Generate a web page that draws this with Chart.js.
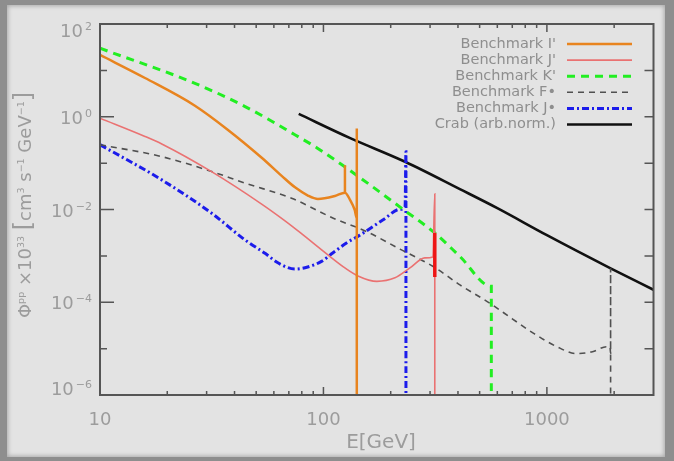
<!DOCTYPE html>
<html lang="en">
<head>
  <meta charset="UTF-8">
  <title>Benchmark spectra</title>
  <script src="https://cdn.jsdelivr.net/npm/chart.js"></script>
  <style>
    html, body { margin: 0; padding: 0; background: #e3e3e3; }
    #wrap { position: relative; width: 674px; height: 461px; overflow: hidden; }
    #frame { position: absolute; left: 0; top: 0; width: 674px; height: 461px; box-sizing: border-box;
      background: #e3e3e3; border-style: solid; border-color: #8e8e8e; border-width: 5px 9px 4px 7px;
      box-shadow: inset 0 0 4px 1px #a8a8a8; }
    #chart { position: absolute; left: 0; top: 0; }
  </style>
</head>
<body>
<div id="wrap">
  <div id="frame"></div>
  <canvas id="chart" width="674" height="461"></canvas>
</div>
<script>
// energies in GeV, fluxes in 1e-33 cm^3 s^-1 GeV^-1
const energyI = [10, 15.9, 26.6, 37.4, 53.1, 65.2, 74.6, 85.2, 94.5, 112.6, 124.8, 124.8, 124.8, 131.5, 138, 141, 141, 141];
const fluxI = [21.5, 6.85, 1.73, 0.52, 0.129, 0.0525, 0.030, 0.020, 0.0169, 0.0196, 0.0231, 0.09, 0.0231, 0.0162, 0.0098, 0.0065, 0.56, 1e-7];

const energyJ = [10, 15.9, 18.9, 31.7, 53.1, 67.3, 78.5, 104.7, 124.8, 142.7, 173.5, 208.9, 243.8, 284.4, 309, 315, 315, 315, 315];
const fluxJ = [0.93, 0.376, 0.259, 0.0646, 0.0129, 0.00568, 0.0032, 1.05e-3, 5.5e-4, 3.7e-4, 2.82e-4, 3.36e-4, 5.5e-4, 9.06e-4, 9.5e-4, 0.0217, 0.0031, 3.5e-4, 1e-7];
const jThickSegment = 16; // dense resonance part of J'

const energyK = [10, 26.6, 44.6, 74.5, 94, 150, 229, 313, 408, 564, 564];
const fluxK = [30, 5.25, 1.66, 0.41, 0.21, 0.044, 0.0098, 0.0032, 9.7e-4, 2.2e-4, 1e-7];

const energyF = [10, 18.9, 31.6, 44.6, 72, 110.7, 156, 220, 310, 408, 556, 700, 869, 1100, 1358, 1600, 1849, 1915, 1928, 1928, 1928];
const fluxF = [0.25, 0.138, 0.066, 0.037, 0.0175, 0.0065, 0.00334, 0.0014, 5.9e-4, 2.37e-4, 9.5e-5, 4.4e-5, 2.16e-5, 1.12e-5, 7.8e-6, 8.6e-6, 1.1e-5, 1.1e-5, 8.0e-6, 5.4e-4, 1e-7];

const energyJs = [10, 18.9, 31.6, 44.6, 55, 62.8, 74.5, 85, 98, 110, 126.8, 145.5, 185, 220, 232, 234, 234];
const fluxJs = [0.25, 0.0435, 0.0083, 0.0022, 1.12e-3, 7.0e-4, 5.2e-4, 5.75e-4, 7.6e-4, 1.15e-3, 1.9e-3, 2.8e-3, 6.0e-3, 0.0101, 0.0117, 0.177, 1e-7];

const energyCrab = [77.5, 131, 232, 408, 600, 1000, 1928, 3000];
const fluxCrab = [1.15, 0.35, 0.107, 0.0275, 0.0107, 0.0028, 5.4e-4, 1.86e-4];

const seriesLabels = ["Benchmark I'", "Benchmark J'", "Benchmark K'", "Benchmark F\u2022", "Benchmark J\u2022", "Crab (arb.norm.)"];

// axis ticks
const xMajorTicks = [10, 100, 1000];
const xTickLabels = ['10', '100', '1000'];
const xMinorTicks = [20, 30, 40, 50, 60, 70, 80, 90, 200, 300, 400, 500, 600, 700, 800, 900, 2000];
const yMajorTicks = [1e-6, 1e-4, 1e-2, 1, 100];
const yTickExponents = ['\u22126', '\u22124', '\u22122', '0', '2'];
const yMinorTicks = [1e-5, 1e-3, 1e-1, 10];

const FONT = '"DejaVu Sans", "Liberation Sans", sans-serif';

function pts(xs, ys) {
  return xs.map((v, i) => ({ x: v, y: ys[i] }));
}

// draws pieces of text, some of them as superscripts, starting at x0
function drawPieces(ctx, pieces, x0, base) {
  let x = x0;
  pieces.forEach(p => {
    ctx.font = p.size + 'px ' + FONT;
    ctx.fillText(p.t, x, base + (p.sup ? -7 : 0));
    x += ctx.measureText(p.t).width;
  });
}
function piecesWidth(ctx, pieces) {
  return pieces.reduce((w, p) => { ctx.font = p.size + 'px ' + FONT; return w + ctx.measureText(p.t).width; }, 0);
}

const axisFrame = {
  id: 'axisFrame',
  afterDraw(chart) {
    const { ctx, chartArea: a, scales: { x, y } } = chart;
    ctx.save();
    ctx.strokeStyle = '#555';
    ctx.lineWidth = 2;
    ctx.strokeRect(a.left, a.top, a.right - a.left, a.bottom - a.top);

    // inward ticks on all four sides
    ctx.lineWidth = 1.5;
    ctx.beginPath();
    xMajorTicks.concat(xMinorTicks).forEach(v => {
      const px = x.getPixelForValue(v);
      const len = xMajorTicks.includes(v) ? 8 : 4;
      ctx.moveTo(px, a.bottom); ctx.lineTo(px, a.bottom - len);
      ctx.moveTo(px, a.top); ctx.lineTo(px, a.top + len);
    });
    yMajorTicks.concat(yMinorTicks).forEach(v => {
      const py = y.getPixelForValue(v);
      const len = yMajorTicks.includes(v) ? 14 : 7;
      ctx.moveTo(a.left, py); ctx.lineTo(a.left + len, py);
      ctx.moveTo(a.right, py); ctx.lineTo(a.right - 9, py);
    });
    ctx.stroke();

    // tick labels
    ctx.fillStyle = '#9c9c9c';
    ctx.textBaseline = 'alphabetic';
    ctx.font = '18px ' + FONT;
    ctx.textAlign = 'center';
    xMajorTicks.forEach((v, i) => ctx.fillText(xTickLabels[i], x.getPixelForValue(v), 425));

    ctx.textAlign = 'left';
    yMajorTicks.forEach((v, i) => {
      const py = y.getPixelForValue(v);
      const base = Math.min(a.bottom, Math.max(a.top + 13, py + 7));
      const pieces = [{ t: '10', size: 18 }, { t: yTickExponents[i], size: 11, sup: true }];
      const w = piecesWidth(ctx, pieces) + 2;
      drawPieces(ctx, [{ t: '10', size: 18 }], 92 - w, base);
      drawPieces(ctx, [pieces[1]], 92 - piecesWidth(ctx, [pieces[1]]), base);
    });

    // axis titles
    ctx.font = '20px ' + FONT;
    ctx.textAlign = 'center';
    ctx.fillText('E[GeV]', 381, 448);

    const title = [
      { t: '\u03A6', size: 18 }, { t: 'pp', size: 9.5, sup: true },
      { t: ' \u00D710', size: 18 }, { t: '33', size: 9.5, sup: true },
      { t: ' ', size: 18 }, { t: '[', size: 24 }, { t: 'cm', size: 18 }, { t: '3', size: 9.5, sup: true },
      { t: ' s', size: 18 }, { t: '\u22121', size: 9.5, sup: true },
      { t: ' GeV', size: 18 }, { t: '\u22121', size: 9.5, sup: true }, { t: ']', size: 24 }
    ];
    ctx.save();
    ctx.translate(24, 205);
    ctx.rotate(-Math.PI / 2);
    ctx.textAlign = 'left';
    drawPieces(ctx, title, -piecesWidth(ctx, title) / 2, 7);
    ctx.restore();

    // legend: text on the left, line sample on the right
    ctx.font = '14.5px ' + FONT;
    ctx.textAlign = 'right';
    ctx.textBaseline = 'middle';
    chart.data.datasets.forEach((ds, i) => {
      const ry = 44 + i * 16.1;
      ctx.fillStyle = '#8e8e8e';
      ctx.fillText(ds.label, 556, ry);
      ctx.save();
      ctx.strokeStyle = ds.borderColor;
      ctx.lineWidth = ds.borderWidth;
      ctx.setLineDash(ds.borderDash || []);
      ctx.beginPath();
      ctx.moveTo(567, ry); ctx.lineTo(632, ry);
      ctx.stroke();
      ctx.restore();
    });
    ctx.restore();
  }
};

const ctx = document.getElementById('chart').getContext('2d');
new Chart(ctx, {
  type: 'scatter',
  data: {
    datasets: [
      { label: seriesLabels[0], data: pts(energyI, fluxI), borderColor: '#e8841f', borderWidth: 2.5 },
      { label: seriesLabels[1], data: pts(energyJ, fluxJ), borderColor: '#ea7272', borderWidth: 1.6,
        segment: {
          borderWidth: c => c.p0DataIndex === jThickSegment ? 3.5 : undefined,
          borderColor: c => c.p0DataIndex === jThickSegment ? '#ee1515' : undefined
        } },
      { label: seriesLabels[2], data: pts(energyK, fluxK), borderColor: '#22ee22', borderWidth: 3, borderDash: [8, 6] },
      { label: seriesLabels[3], data: pts(energyF, fluxF), borderColor: '#505050', borderWidth: 1.6, borderDash: [6, 5] },
      { label: seriesLabels[4], data: pts(energyJs, fluxJs), borderColor: '#1c1ceb', borderWidth: 3, borderDash: [7, 3, 2, 3] },
      { label: seriesLabels[5], data: pts(energyCrab, fluxCrab), borderColor: '#111', borderWidth: 2.6 }
    ].map(ds => Object.assign({ showLine: true, pointRadius: 0, cubicInterpolationMode: 'monotone', fill: false }, ds))
  },
  options: {
    responsive: false,
    animation: false,
    layout: { padding: { left: 0, top: 24, right: 20.5, bottom: 0 } },
    plugins: { legend: { display: false }, tooltip: { enabled: false } },
    scales: {
      x: {
        type: 'logarithmic', min: 10, max: 3000, bounds: 'data',
        grid: { display: false, drawTicks: false }, border: { display: false },
        ticks: { display: false },
        afterFit: s => { s.height = 66; }
      },
      y: {
        type: 'logarithmic', min: 1e-6, max: 100, bounds: 'data',
        grid: { display: false, drawTicks: false }, border: { display: false },
        ticks: { display: false },
        afterFit: s => { s.width = 100; }
      }
    }
  },
  plugins: [axisFrame]
});
</script>
</body>
</html>
